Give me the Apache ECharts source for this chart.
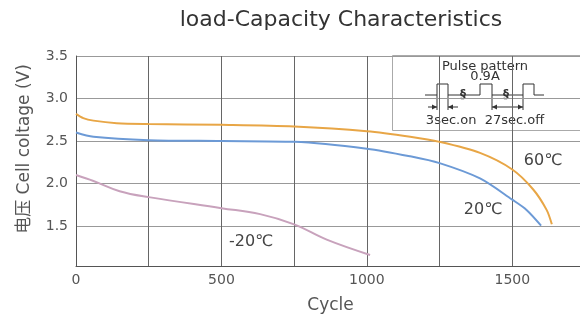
<!DOCTYPE html>
<html>
<head>
<meta charset="utf-8">
<script src="https://cdn.jsdelivr.net/npm/echarts@6/dist/echarts.min.js"></script>
<style>
  html, body { margin: 0; padding: 0; background: #fff; overflow: hidden; }
  #main { width: 600px; height: 314px; }
</style>
</head>
<body>
<div id="main"></div>
<script>
// 数据
var yTicks = [1.5, 2.0, 2.5, 3.0, 3.5];

var cycle60 = [0, 25, 60, 140, 250, 500, 750, 1000, 1149, 1250, 1389, 1500, 1572, 1618, 1636];
var volt60 = [2.82, 2.77, 2.74, 2.71, 2.70, 2.69, 2.67, 2.615, 2.55, 2.49, 2.36, 2.165, 1.93, 1.69, 1.52];

var cycle20 = [0, 60, 250, 500, 750, 1000, 1149, 1250, 1389, 1500, 1549, 1599];
var volt20 = [2.60, 2.55, 2.51, 2.50, 2.49, 2.41, 2.32, 2.24, 2.06, 1.81, 1.69, 1.505];

var cycleM20 = [0, 60, 150, 250, 500, 633, 750, 862, 1011];
var voltM20 = [2.10, 2.03, 1.91, 1.84, 1.71, 1.64, 1.52, 1.34, 1.16];

function pairs(xs, ys) {
  return xs.map(function (x, i) { return [x, ys[i]]; });
}

(function() {
  var myChart = echarts.init(document.getElementById("main"));
  var font = "DejaVu Sans";
  var txt = "#444";

  // 脉冲示意图的箭头
  function arrow(x, y, dir) {
    return {
      type: "polygon",
      shape: { points: [[x, y], [x - 5 * dir, y - 2.5], [x - 5 * dir, y + 2.5]] },
      style: { fill: "#333" }
    };
  }

  var option = {
    animation: false,
    grid: { left: 76, top: 56, width: 509, height: 210, outerBoundsMode: "none", containLabel: false },
    xAxis: {
      type: "value",
      min: 0,
      max: 1750,
      interval: 250,
      axisLine: { lineStyle: { color: "#555", width: 1 } },
      axisTick: { show: false },
      axisLabel: {
        color: "#555",
        fontFamily: font,
        fontSize: 14,
        margin: 7,
        formatter: function (v) { return v % 500 === 0 && v < 1750 ? String(v) : ""; }
      },
      splitLine: { show: true, showMaxLine: false, lineStyle: { color: "#666", width: 1 } },
      name: "Cycle",
      nameLocation: "middle",
      nameGap: 31,
      nameTextStyle: { color: "#555", fontFamily: font, fontSize: 17 }
    },
    yAxis: {
      type: "value",
      min: 1.03,
      max: 3.5,
      axisLine: { show: true, lineStyle: { color: "#555", width: 1 } },
      axisTick: { show: false, customValues: yTicks },
      axisLabel: {
        color: "#555",
        fontFamily: font,
        fontSize: 14,
        margin: 8,
        customValues: yTicks,
        formatter: function (v) { return v.toFixed(1); }
      },
      splitLine: { show: true, lineStyle: { color: "#999", width: 1 } }
    },
    series: [
      {
        name: "60℃",
        type: "line",
        data: pairs(cycle60, volt60),
        smooth: 0.3,
        showSymbol: false,
        lineStyle: { color: "#E8A646", width: 2 },
        z: 3
      },
      {
        name: "20℃",
        type: "line",
        data: pairs(cycle20, volt20),
        smooth: 0.3,
        showSymbol: false,
        lineStyle: { color: "#6C9AD6", width: 2 },
        z: 3
      },
      {
        name: "-20℃",
        type: "line",
        data: pairs(cycleM20, voltM20),
        smooth: 0.4,
        showSymbol: false,
        lineStyle: { color: "#C8A2BC", width: 2 },
        z: 3
      }
    ],
    graphic: {
      elements: [
        // 标题
        {
          type: "text", x: 341, y: 20,
          style: { text: "load-Capacity Characteristics", fill: "#333", font: "22px DejaVu Sans",
                   textAlign: "center", textVerticalAlign: "middle" }
        },
        // y轴标题
        {
          type: "text", x: 25, y: 149, rotation: Math.PI / 2,
          style: { text: "电压 Cell coltage (V)", fill: "#555", font: "17px 'DejaVu Sans', 'Noto Sans CJK SC'",
                   textAlign: "center", textVerticalAlign: "middle" }
        },
        // 曲线标签
        { type: "text", x: 543, y: 161, style: { text: "60℃", fill: txt, font: "16px DejaVu Sans", textAlign: "center", textVerticalAlign: "middle" } },
        { type: "text", x: 483, y: 210, style: { text: "20℃", fill: txt, font: "16px DejaVu Sans", textAlign: "center", textVerticalAlign: "middle" } },
        { type: "text", x: 251, y: 242, style: { text: "-20℃", fill: txt, font: "16px DejaVu Sans", textAlign: "center", textVerticalAlign: "middle" } },
        // 脉冲示意框
        {
          type: "group",
          z: 10,
          children: [
            { type: "rect", shape: { x: 392.5, y: 55.5, width: 200, height: 75 }, style: { fill: "#fff", stroke: "#aaa", lineWidth: 1 } },
            { type: "text", x: 485, y: 67, style: { text: "Pulse pattern", fill: "#333", font: "13px DejaVu Sans", textAlign: "center", textVerticalAlign: "middle" } },
            { type: "text", x: 485, y: 77, style: { text: "0.9A", fill: "#333", font: "13px DejaVu Sans", textAlign: "center", textVerticalAlign: "middle" } },
            {
              type: "polyline",
              shape: { points: [[425, 95], [437, 95], [437, 84], [448, 84], [448, 95], [480, 95], [480, 84], [492, 84], [492, 95],
                                [523, 95], [523, 84], [534, 84], [534, 95], [544, 95]] },
              style: { stroke: "#333", lineWidth: 1, fill: null }
            },
            { type: "text", x: 463, y: 95, style: { text: "§", fill: "#333", font: "bold 12px DejaVu Sans", textAlign: "center", textVerticalAlign: "middle" } },
            { type: "text", x: 506, y: 95, style: { text: "§", fill: "#333", font: "bold 12px DejaVu Sans", textAlign: "center", textVerticalAlign: "middle" } },
            { type: "line", shape: { x1: 437, y1: 95, x2: 437, y2: 110 }, style: { stroke: "#333", lineWidth: 1 } },
            { type: "line", shape: { x1: 448, y1: 95, x2: 448, y2: 110 }, style: { stroke: "#333", lineWidth: 1 } },
            { type: "line", shape: { x1: 492, y1: 95, x2: 492, y2: 110 }, style: { stroke: "#333", lineWidth: 1 } },
            { type: "line", shape: { x1: 523, y1: 95, x2: 523, y2: 110 }, style: { stroke: "#333", lineWidth: 1 } },
            { type: "line", shape: { x1: 428, y1: 107, x2: 437, y2: 107 }, style: { stroke: "#333", lineWidth: 1 } },
            arrow(437, 107, 1),
            { type: "line", shape: { x1: 448, y1: 107, x2: 458, y2: 107 }, style: { stroke: "#333", lineWidth: 1 } },
            arrow(448, 107, -1),
            { type: "line", shape: { x1: 492, y1: 107, x2: 523, y2: 107 }, style: { stroke: "#333", lineWidth: 1 } },
            arrow(492, 107, -1),
            arrow(523, 107, 1),
            { type: "text", x: 485, y: 121, style: { text: "3sec.on  27sec.off", fill: "#333", font: "13px DejaVu Sans", textAlign: "center", textVerticalAlign: "middle" } }
          ]
        }
      ]
    }
  };
  myChart.setOption(option);
  window.addEventListener("resize", function() {
    myChart.resize();
  });
})();
</script>
</body>
</html>
